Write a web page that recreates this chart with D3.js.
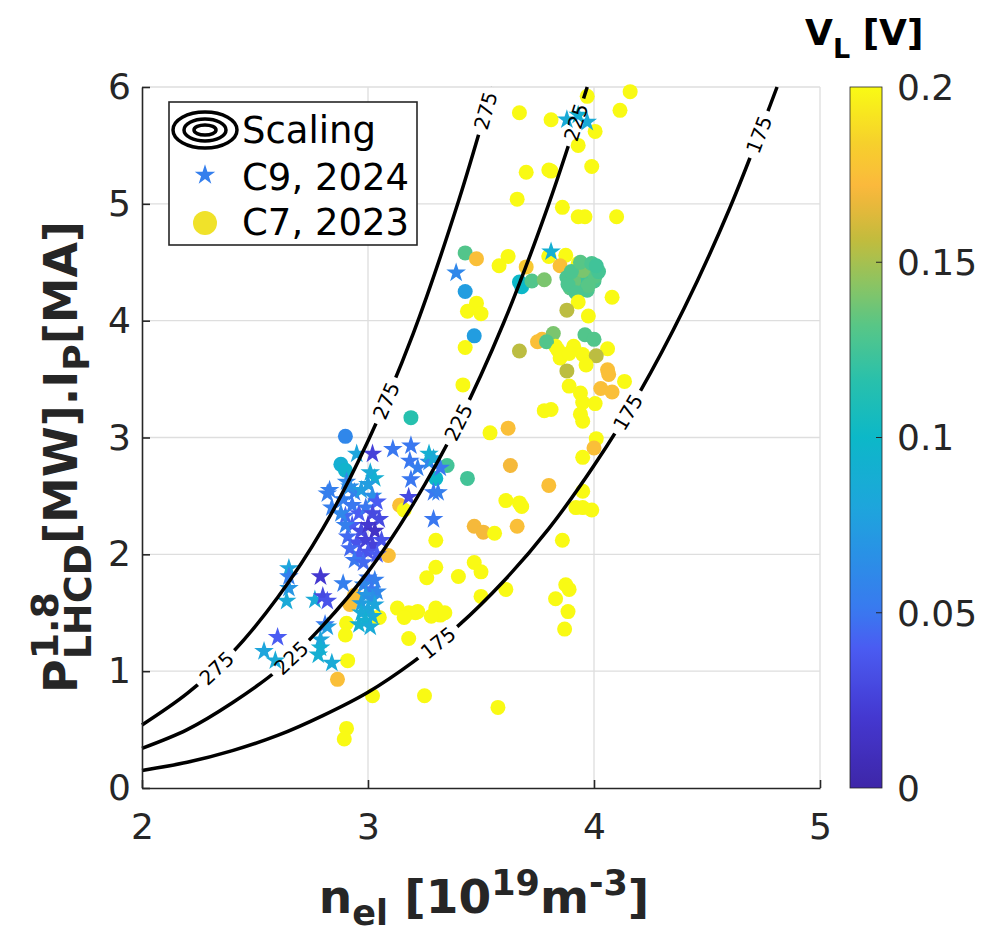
<!DOCTYPE html>
<html>
<head>
<meta charset="utf-8">
<script src="https://cdn.jsdelivr.net/npm/d3@7"></script>
<style>
  body { margin: 0; background: #fff; }
  svg { display: block; font-family: "DejaVu Sans", sans-serif; }
</style>
</head>
<body>
<div id="chart"></div>
<script>
// ---- data: [n_el, P^1.8*Ip, V_L] ----
const c9_2024 = [
  [3.88,5.72,0.085],[3.93,5.76,0.09],[3.97,5.70,0.085],
  [3.39,4.41,0.06],[3.81,4.59,0.09],
  [2.95,2.86,0.08],[3.02,2.86,0.025],[3.01,2.70,0.085],[3.03,2.65,0.09],[3.00,2.60,0.075],
  [2.82,2.52,0.055],[2.84,2.40,0.055],[2.905,2.62,0.06],[2.94,2.53,0.055],[2.89,2.47,0.055],
  [2.92,2.58,0.065],[2.97,2.55,0.075],[3.02,2.50,0.065],[3.04,2.45,0.04],[2.93,2.42,0.05],
  [2.96,2.35,0.04],[2.99,2.40,0.05],[2.90,2.33,0.045],[3.02,2.35,0.03],[3.05,2.30,0.03],
  [2.93,2.25,0.04],[2.97,2.20,0.03],[3.00,2.25,0.02],[3.03,2.20,0.015],[2.91,2.15,0.045],
  [2.95,2.10,0.035],[2.99,2.12,0.025],[3.02,2.08,0.025],[3.06,2.12,0.035],[2.92,2.05,0.045],
  [2.96,2.00,0.04],[3.00,2.02,0.035],[3.04,2.00,0.04],[2.94,1.95,0.05],[2.98,1.93,0.045],
  [2.90,2.25,0.055],[2.88,2.35,0.06],[2.83,2.55,0.055],
  [3.11,2.90,0.05],[3.19,2.93,0.05],[3.185,2.80,0.05],[3.22,2.74,0.055],[3.19,2.64,0.05],
  [3.18,2.49,0.03],[3.27,2.79,0.06],[3.27,2.86,0.09],[3.29,2.82,0.085],[3.32,2.74,0.05],
  [3.29,2.53,0.05],[3.31,2.53,0.055],[3.29,2.30,0.05],
  [3.00,1.80,0.05],[3.03,1.78,0.055],[2.98,1.74,0.06],[3.015,1.70,0.05],[3.04,1.68,0.06],
  [2.99,1.65,0.07],[3.02,1.62,0.065],[2.97,1.58,0.075],[3.03,1.57,0.08],[3.00,1.53,0.08],
  [2.97,1.50,0.085],[3.02,1.47,0.085],[2.99,1.43,0.09],[2.96,1.40,0.09],[3.01,1.38,0.085],
  [2.65,1.88,0.08],[2.65,1.81,0.055],[2.65,1.71,0.07],[2.64,1.60,0.085],[2.79,1.81,0.02],
  [2.765,1.61,0.085],[2.80,1.64,0.03],[2.82,1.60,0.035],[2.89,1.75,0.055],
  [2.60,1.29,0.04],[2.54,1.17,0.08],[2.59,1.09,0.085],[2.81,1.40,0.05],[2.79,1.27,0.08],
  [2.78,1.14,0.09],[2.84,1.07,0.085],[2.79,1.20,0.09],[2.82,1.38,0.075]
];

const c7_2023 = [
  [3.67,5.78,0.2],[3.81,5.72,0.2],[4.16,5.96,0.2],[4.115,5.80,0.2],[3.97,5.92,0.2],
  [4.005,5.62,0.2],[3.93,5.50,0.2],[3.99,5.32,0.2],[3.70,5.27,0.2],[3.80,5.29,0.2],
  [3.81,5.28,0.2],[3.66,5.04,0.2],[3.86,4.97,0.2],[3.93,4.89,0.2],[3.96,4.89,0.2],[4.10,4.89,0.2],
  [3.43,4.58,0.13],[3.48,4.53,0.175],[3.62,4.55,0.2],[3.58,4.47,0.2],[3.43,4.25,0.075],
  [3.48,4.15,0.2],[3.44,4.08,0.2],[3.50,4.06,0.2],
  [3.80,4.55,0.2],[3.875,4.56,0.2],[3.85,4.47,0.175],[3.70,4.46,0.18],[3.68,4.29,0.1],
  [3.67,4.33,0.1],[3.725,4.34,0.13],[3.78,4.35,0.14],[3.93,4.49,0.2],
  [3.88,4.37,0.128],[3.895,4.28,0.132],[3.925,4.31,0.128],[3.955,4.34,0.124],[3.985,4.40,0.128],
  [3.97,4.46,0.132],[4.00,4.34,0.128],[4.005,4.38,0.132],[3.94,4.26,0.128],[3.97,4.26,0.128],
  [3.91,4.34,0.136],[3.95,4.43,0.14],[3.885,4.31,0.128],[3.975,4.30,0.132],[4.02,4.42,0.126],
  [3.90,4.42,0.128],[3.94,4.50,0.132],[3.99,4.49,0.128],[4.01,4.47,0.124],[3.92,4.24,0.128],
  [4.08,4.20,0.2],[3.93,4.16,0.2],[3.88,4.09,0.155],[3.975,4.04,0.2],
  [3.77,3.84,0.175],[3.82,3.89,0.14],[3.83,3.78,0.2],[3.96,3.88,0.13],[4.00,3.84,0.13],
  [3.91,3.78,0.2],[4.06,3.76,0.2],
  [3.47,3.87,0.075],[3.43,3.77,0.2],[3.42,3.45,0.2],[3.67,3.74,0.155],[3.75,3.82,0.175],[3.79,3.82,0.13],
  [3.84,3.75,0.2],[3.85,3.68,0.2],[3.89,3.72,0.2],[3.95,3.71,0.2],[4.01,3.70,0.155],
  [3.88,3.57,0.155],[3.965,3.62,0.2],[4.06,3.58,0.175],[4.065,3.54,0.175],[4.135,3.48,0.2],
  [3.89,3.44,0.2],[3.94,3.38,0.2],[3.95,3.30,0.2],[4.005,3.29,0.2],[4.03,3.42,0.175],
  [4.08,3.39,0.175],[3.78,3.23,0.2],[3.81,3.24,0.2],[3.94,3.20,0.2],[3.95,3.14,0.2],
  [3.19,3.17,0.115],[3.54,3.04,0.2],[3.62,3.08,0.175],[3.63,2.76,0.17],[3.80,2.59,0.175],
  [3.61,2.46,0.2],[3.67,2.44,0.2],[3.68,2.41,0.2],[3.47,2.24,0.17],[3.51,2.19,0.17],
  [3.56,2.18,0.2],[3.66,2.24,0.175],[3.35,2.76,0.125],[3.44,2.65,0.125],[3.30,2.12,0.2],
  [4.01,2.99,0.2],[4.00,2.91,0.175],[3.95,2.83,0.2],[3.95,2.54,0.2],[3.92,2.40,0.2],
  [3.95,2.40,0.2],[3.99,2.38,0.2],[3.86,2.12,0.2],
  [3.09,1.99,0.175],[3.30,1.89,0.2],[3.26,1.80,0.2],[3.40,1.81,0.2],[3.47,1.93,0.2],
  [3.50,1.85,0.2],[3.61,1.70,0.2],[3.50,1.64,0.2],[3.875,1.74,0.2],[3.89,1.70,0.2],
  [3.83,1.62,0.2],[3.885,1.51,0.2],[3.87,1.36,0.2],
  [3.13,1.54,0.2],[3.18,1.50,0.2],[3.21,1.50,0.2],[3.22,1.51,0.2],[3.30,1.54,0.2],
  [3.32,1.48,0.2],[3.34,1.50,0.2],[3.16,1.46,0.2],[3.28,1.47,0.2],[3.18,1.28,0.2],
  [3.25,0.79,0.2],[3.575,0.69,0.2],[3.05,1.46,0.2],
  [2.90,3.01,0.06],[2.88,2.77,0.09],[2.90,2.72,0.095],[3.30,2.65,0.1],[3.14,2.42,0.175],[3.16,2.38,0.2],
  [2.92,1.57,0.175],[2.94,1.65,0.175],[3.04,1.46,0.2],[2.905,1.41,0.2],[2.90,1.31,0.2],
  [2.91,1.09,0.2],[2.865,0.93,0.175],[3.02,0.79,0.2],[2.905,0.51,0.2],[2.895,0.42,0.2]
];

// scaling contour lines
const scaling175 = [[2.0,0.15],[2.2,0.22],[2.4,0.32],[2.6,0.45],[2.8,0.62],[3.0,0.82],[3.2,1.08],
  [3.4,1.39],[3.6,1.77],[3.8,2.22],[4.0,2.76],[4.2,3.38],[4.4,4.11],[4.6,4.96],[4.81,6.0]];
const scaling225 = [[2.0,0.34],[2.2,0.50],[2.4,0.73],[2.6,1.01],[2.8,1.39],[3.0,1.85],[3.2,2.43],
  [3.4,3.13],[3.6,3.98],[3.8,5.00],[3.97,6.0]];
const scaling275 = [[2.0,0.54],[2.2,0.81],[2.4,1.16],[2.6,1.63],[2.8,2.22],[3.0,2.97],[3.2,3.89],
  [3.4,5.02],[3.55,6.0]];
const labelAt175 = [3.31, 4.15, 4.73];
const labelAt225 = [2.66, 3.40, 3.92];
const labelAt275 = [2.33, 3.08, 3.52];

const xTicks = [2, 3, 4, 5];
const yTicks = [0, 1, 2, 3, 4, 5, 6];
const cbTicks = [0, 0.05, 0.1, 0.15, 0.2];

// parula-like colormap
const parula = ["#3e26a8","#4438d0","#4a5cf2","#3a78f0","#2a90e6","#1ea5dc","#0cb8c8",
  "#28c0ac","#58c686","#8cc462","#c0bc3e","#e8b83a","#fbb93c","#f6d02c","#f9fa14"];
const parulaPos = [0,0.1,0.2,0.25,0.33,0.4,0.5,0.58,0.66,0.72,0.78,0.83,0.86,0.92,1];

const W = 987, H = 936;
const svg = d3.select("#chart").append("svg").attr("width", W).attr("height", H);
const defs = svg.append("defs");

const x = d3.scaleLinear().domain([2, 5]).range([142, 820]);
const y = d3.scaleLinear().domain([0, 6]).range([788, 87]);
const t = d3.scaleLinear().domain([0, 0.2]).range([0, 1]).clamp(true);
const cmap = d3.scaleLinear().domain(parulaPos).range(parula).interpolate(d3.interpolateRgb);
const color = v => cmap(t(v));

// grid
svg.append("g").selectAll("line").data(xTicks.slice(1)).join("line")
  .attr("x1", d => x(d)).attr("x2", d => x(d)).attr("y1", y(0)).attr("y2", y(6))
  .attr("stroke", "#dedede").attr("stroke-width", 1.3);
svg.append("g").selectAll("line").data(yTicks.slice(1)).join("line")
  .attr("x1", x(2)).attr("x2", x(5)).attr("y1", d => y(d)).attr("y2", d => y(d))
  .attr("stroke", "#dedede").attr("stroke-width", 1.3);

// points
svg.append("g").selectAll("circle").data(c7_2023).join("circle")
  .attr("cx", d => x(d[0])).attr("cy", d => y(d[1])).attr("r", 7.5)
  .attr("fill", d => color(d[2]));

const star = d3.symbol().type(d3.symbolStar).size(120);
svg.append("g").selectAll("path").data(c9_2024).join("path")
  .attr("d", star)
  .attr("transform", d => `translate(${x(d[0])},${y(d[1])})`)
  .attr("fill", d => color(d[2]));

// contours with inline labels
const mask = defs.append("mask").attr("id", "gaps").attr("maskUnits", "userSpaceOnUse")
  .attr("x", 0).attr("y", 0).attr("width", W).attr("height", H);
mask.append("rect").attr("width", W).attr("height", H).attr("fill", "white");

const line = d3.line().x(d => x(d[0])).y(d => y(d[1])).curve(d3.curveCatmullRom.alpha(0.5));
const curves = [
  { level: 175, pts: scaling175, at: labelAt175 },
  { level: 225, pts: scaling225, at: labelAt225 },
  { level: 275, pts: scaling275, at: labelAt275 }
];
const cg = svg.append("g");
const lg = svg.append("g");
curves.forEach(c => {
  const p = cg.append("path").attr("d", line(c.pts)).attr("fill", "none")
    .attr("stroke", "#000").attr("stroke-width", 3.5).attr("mask", "url(#gaps)");
  const node = p.node();
  const L = node.getTotalLength();
  c.at.forEach(n => {
    const px = x(n);
    let lo = 0, hi = L;
    for (let i = 0; i < 40; i++) {
      const mid = (lo + hi) / 2;
      if (node.getPointAtLength(mid).x < px) lo = mid; else hi = mid;
    }
    const pt = node.getPointAtLength(lo);
    const a = node.getPointAtLength(Math.max(0, lo - 8));
    const b = node.getPointAtLength(Math.min(L, lo + 8));
    const ang = Math.atan2(b.y - a.y, b.x - a.x) * 180 / Math.PI;
    const tr = `translate(${pt.x},${pt.y}) rotate(${ang})`;
    mask.append("rect").attr("x", -25).attr("y", -10).attr("width", 50).attr("height", 20)
      .attr("fill", "black").attr("transform", tr);
    lg.append("text").attr("transform", tr).attr("text-anchor", "middle").attr("dy", "0.36em")
      .attr("font-size", 20).attr("fill", "#000").text(c.level);
  });
});

// axes
const axisStyle = g => {
  g.select(".domain").attr("stroke", "#262626").attr("stroke-width", 1.6);
  g.selectAll(".tick line").attr("stroke", "#262626").attr("stroke-width", 1.6);
  g.selectAll(".tick text").attr("fill", "#262626").attr("font-size", 36)
    .attr("font-family", "DejaVu Sans, sans-serif");
};
svg.append("g").attr("transform", `translate(0,${y(0)})`)
  .call(d3.axisBottom(x).tickValues(xTicks).tickFormat(d3.format("d"))
    .tickSizeInner(-8).tickSizeOuter(0).tickPadding(25))
  .call(axisStyle);
svg.append("g").attr("transform", `translate(${x(2)},0)`)
  .call(d3.axisLeft(y).tickValues(yTicks).tickFormat(d3.format("d"))
    .tickSizeInner(-8).tickSizeOuter(0).tickPadding(11))
  .call(axisStyle);

// axis labels
const xl = svg.append("text").attr("x", 484).attr("y", 913).attr("text-anchor", "middle")
  .attr("font-size", 47).attr("font-weight", "bold").attr("fill", "#262626");
xl.append("tspan").text("n");
xl.append("tspan").attr("font-size", 35).attr("dy", 12).text("el");
xl.append("tspan").attr("dy", -12).text(" [10");
xl.append("tspan").attr("font-size", 35).attr("dy", -18).text("19");
xl.append("tspan").attr("dy", 18).text("m");
xl.append("tspan").attr("font-size", 35).attr("dy", -18).text("-3");
xl.append("tspan").attr("dy", 18).text("]");

const yl = svg.append("text").attr("transform", "translate(77,457) rotate(-90)")
  .attr("text-anchor", "middle").attr("font-size", 46).attr("font-weight", "bold").attr("fill", "#262626");
yl.append("tspan").text("P");
const sup = yl.append("tspan").attr("font-size", 38).attr("dy", -19).text("1.8");
const supW = sup.node().getComputedTextLength();
yl.append("tspan").attr("font-size", 38).attr("dx", -supW).attr("dy", 33).text("LHCD");
yl.append("tspan").attr("dy", -14).text("[MW].I");
yl.append("tspan").attr("font-size", 36).attr("dy", 12).text("P");
yl.append("tspan").attr("dy", -12).text("[MA]");

// colorbar
const cbX = 850, cbW = 32;
const grad = defs.append("linearGradient").attr("id", "cb").attr("x1", 0).attr("x2", 0).attr("y1", 1).attr("y2", 0);
d3.range(0, 1.0001, 0.02).forEach(s => grad.append("stop").attr("offset", s).attr("stop-color", cmap(s)));
svg.append("rect").attr("x", cbX).attr("y", y(6)).attr("width", cbW).attr("height", y(0) - y(6))
  .attr("fill", "url(#cb)").attr("stroke", "#262626").attr("stroke-width", 0.8);
const cbY = d3.scaleLinear().domain([0, 0.2]).range([y(0), y(6)]);
svg.append("g").selectAll("line").data(cbTicks.slice(1, -1)).join("line")
  .attr("x1", cbX + cbW).attr("x2", cbX + cbW - 6).attr("y1", d => cbY(d)).attr("y2", d => cbY(d))
  .attr("stroke", "#262626").attr("stroke-width", 1);
svg.append("g").selectAll("text").data(cbTicks).join("text")
  .attr("x", 897).attr("y", d => cbY(d)).attr("dy", "0.36em")
  .attr("font-size", 36).attr("fill", "#262626").text(d => d);

const ct = svg.append("text").attr("x", 805).attr("y", 45).attr("font-size", 36)
  .attr("font-weight", "bold").attr("fill", "#000");
ct.append("tspan").text("V");
ct.append("tspan").attr("font-size", 27).attr("dy", 13).text("L");
ct.append("tspan").attr("dy", -13).text(" [V]");

// legend
const leg = svg.append("g");
leg.append("rect").attr("x", 169).attr("y", 102).attr("width", 248).attr("height", 143)
  .attr("fill", "#fff").attr("stroke", "#262626").attr("stroke-width", 1.6);
[[32, 18], [21, 11], [11, 5]].forEach(r => leg.append("ellipse")
  .attr("cx", 205).attr("cy", 130).attr("rx", r[0]).attr("ry", r[1])
  .attr("fill", "none").attr("stroke", "#000").attr("stroke-width", 3.5));
leg.append("path").attr("d", d3.symbol().type(d3.symbolStar).size(130)())
  .attr("transform", "translate(205,175)").attr("fill", color(0.055));
leg.append("circle").attr("cx", 205).attr("cy", 223).attr("r", 12).attr("fill", "#f0e22a");
const legText = ["Scaling", "C9, 2024", "C7, 2023"];
const legY = [143, 190, 235];
leg.selectAll("text.lt").data(legText).join("text").attr("class", "lt")
  .attr("x", 242).attr("y", (d, i) => legY[i]).attr("font-size", 37).attr("fill", "#000").text(d => d);
</script>
</body>
</html>
